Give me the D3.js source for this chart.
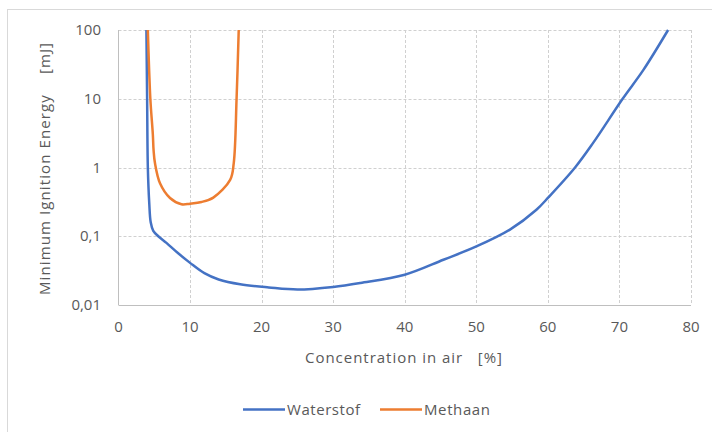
<!DOCTYPE html>
<html>
<head>
<meta charset="utf-8">
<script src="https://cdn.jsdelivr.net/npm/d3@7"></script>
<style>
  body { margin: 0; background: #fff; }
  text { font-family: "Open Sans", sans-serif; fill: #595959; }
</style>
</head>
<body>
<div id="chart"></div>
<script>
// Data
var xTicks = [0, 10, 20, 30, 40, 50, 60, 70, 80];
var yTicks = [0.01, 0.1, 1, 10, 100];
var yTickLabels = ["0,01", "0,1", "1", "10", "100"];

var waterstofX = [3.9, 4.0, 4.1, 4.3, 4.5, 4.86, 5.56, 6.7, 8.3, 10, 12, 14, 17, 21, 25, 30, 33.8, 40, 45.4, 50, 54.7, 58.4, 60.1, 63.8, 66.3, 70.45, 73.35, 76.8];
var waterstofY = [100, 10, 1, 0.3, 0.16, 0.12, 0.1, 0.08, 0.057, 0.041, 0.029, 0.0235, 0.02, 0.018, 0.0168, 0.0183, 0.0209, 0.0276, 0.0455, 0.071, 0.125, 0.243, 0.37, 1, 2.26, 10, 26.3, 100];

var methaanX = [4.1, 4.45, 4.8, 4.9, 5.1, 5.8, 7.2, 8.8, 10, 11.6, 13.25, 15.6, 16.1, 16.5, 16.8];
var methaanY = [100, 10, 3, 1.8, 1.15, 0.59, 0.36, 0.292, 0.298, 0.315, 0.365, 0.66, 1.15, 10, 100];

var width = 712;
var height = 432;
var margin = { top: 30, right: 21, bottom: 127, left: 118.5 };

var svg = d3.select("#chart")
    .append("svg")
    .attr("width", width)
    .attr("height", height);

// Outer chart border
svg.append("rect")
    .attr("x", 7.5).attr("y", 9.5)
    .attr("width", width + 10).attr("height", height + 10)
    .attr("fill", "none")
    .attr("stroke", "#d9d9d9");

var x = d3.scaleLinear()
    .domain([0, 80])
    .range([margin.left, width - margin.right]);

var y = d3.scaleLog()
    .domain([0.01, 100])
    .range([height - margin.bottom, margin.top]);

// Grid lines
svg.append("g")
    .selectAll("line")
    .data(xTicks.slice(1))
    .enter().append("line")
    .attr("x1", function(d) { return Math.round(x(d)) + 0.5; })
    .attr("x2", function(d) { return Math.round(x(d)) + 0.5; })
    .attr("y1", y(100))
    .attr("y2", y(0.01))
    .attr("stroke", "#d0d0d0")
    .attr("stroke-dasharray", "3,2");

svg.append("g")
    .selectAll("line")
    .data(yTicks.slice(1))
    .enter().append("line")
    .attr("x1", x(0))
    .attr("x2", x(80))
    .attr("y1", function(d) { return Math.round(y(d)) + 0.5; })
    .attr("y2", function(d) { return Math.round(y(d)) + 0.5; })
    .attr("stroke", "#d0d0d0")
    .attr("stroke-dasharray", "3,2");

// Axis lines
svg.append("line")
    .attr("x1", x(0)).attr("x2", x(0))
    .attr("y1", y(100)).attr("y2", y(0.01))
    .attr("stroke", "#bfbfbf");
svg.append("line")
    .attr("x1", x(0)).attr("x2", x(80))
    .attr("y1", Math.round(y(0.01)) + 0.5).attr("y2", Math.round(y(0.01)) + 0.5)
    .attr("stroke", "#bfbfbf");

// Tick labels
svg.append("g")
    .selectAll("text")
    .data(xTicks)
    .enter().append("text")
    .attr("x", function(d) { return x(d); })
    .attr("y", 332)
    .attr("text-anchor", "middle")
    .style("font-size", "15px")
    .text(function(d) { return d; });

svg.append("g")
    .selectAll("text")
    .data(yTicks)
    .enter().append("text")
    .attr("x", 101)
    .attr("y", function(d) { return y(d) + 5; })
    .attr("text-anchor", "end")
    .style("font-size", "15px")
    .text(function(d, i) { return yTickLabels[i]; });

// Axis titles
svg.append("text")
    .attr("x", 305)
    .attr("y", 363)
    .attr("textLength", 197)
    .attr("lengthAdjust", "spacing")
    .style("font-size", "15px")
    .attr("xml:space", "preserve")
    .text("Concentration in air   [%]");

svg.append("text")
    .attr("transform", "translate(50,295) rotate(-90)")
    .attr("textLength", 252)
    .attr("lengthAdjust", "spacing")
    .style("font-size", "15px")
    .attr("xml:space", "preserve")
    .text("Minimum Ignition Energy    [mJ]");

// Lines
var line = d3.line()
    .x(function(d) { return x(d[0]); })
    .y(function(d) { return y(d[1]); })
    .curve(d3.curveCatmullRom.alpha(0.5));

var series = [
    { name: "Waterstof", color: "#4472c4", pts: d3.zip(waterstofX, waterstofY) },
    { name: "Methaan", color: "#ed7d31", pts: d3.zip(methaanX, methaanY) }
];

svg.append("g")
    .selectAll("path")
    .data(series)
    .enter().append("path")
    .attr("d", function(d) { return line(d.pts); })
    .attr("fill", "none")
    .attr("stroke", function(d) { return d.color; })
    .attr("stroke-width", 2.5)
    .attr("stroke-linejoin", "round");

// Legend
var legendX = [243, 380];
var legendLen = [73, 66];
var legend = svg.append("g")
    .selectAll("g")
    .data(series)
    .enter().append("g")
    .attr("transform", function(d, i) { return "translate(" + legendX[i] + ",409.5)"; });

legend.append("line")
    .attr("x1", 0).attr("x2", 42)
    .attr("stroke", function(d) { return d.color; })
    .attr("stroke-width", 2.5);

legend.append("text")
    .attr("x", 44)
    .attr("y", 5)
    .attr("textLength", function(d, i) { return legendLen[i]; })
    .attr("lengthAdjust", "spacing")
    .style("font-size", "15px")
    .text(function(d) { return d.name; });
</script>
</body>
</html>
